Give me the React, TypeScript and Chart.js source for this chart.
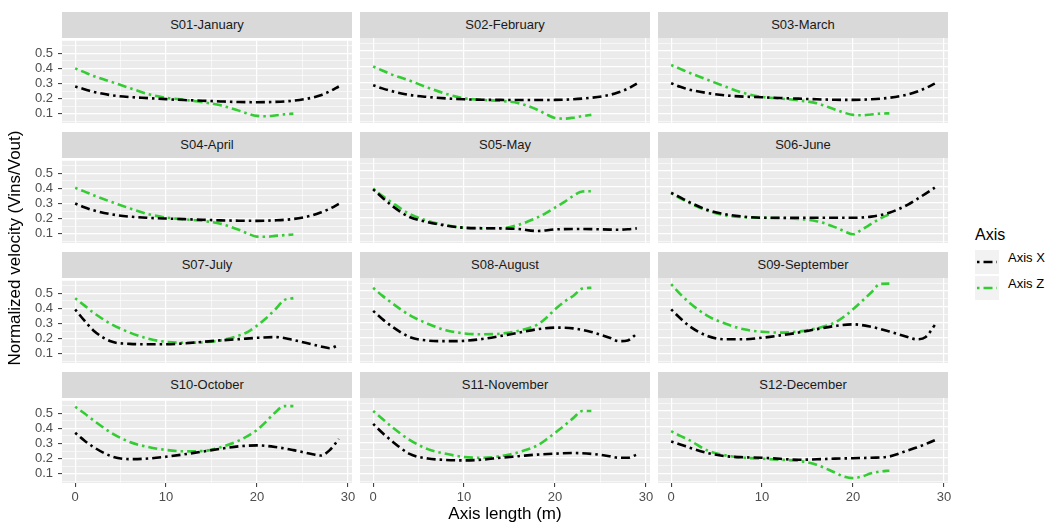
import React, { useEffect, useRef } from "react";
import { Chart, registerables } from "chart.js";

Chart.register(...registerables);

// ---------------- data ----------------
const panelTitles = [
  "S01-January", "S02-February", "S03-March",
  "S04-April", "S05-May", "S06-June",
  "S07-July", "S08-August", "S09-September",
  "S10-October", "S11-November", "S12-December",
];

const legendLabels = ["Axis X", "Axis Z"];
const legendTitle = "Axis";
const xAxisTitle = "Axis length (m)";
const yAxisTitle = "Normalized velocity (Vins/Vout)";

// axis length positions (m) at which each series is read
const axisXPositions = [0, 1, 2, 4, 6, 8, 10, 12, 14, 16, 18, 20, 22, 24, 26, 27, 28, 29];
const axisZPositions = [0, 1, 2, 4, 6, 8, 10, 12, 14, 16, 18, 19, 20, 21, 22, 23, 24];

const s01AxisX = [0.28, 0.262, 0.245, 0.222, 0.21, 0.203, 0.196, 0.19, 0.186, 0.181, 0.177, 0.176, 0.178, 0.186, 0.205, 0.222, 0.248, 0.28];
const s01AxisZ = [0.40, 0.375, 0.35, 0.31, 0.27, 0.23, 0.205, 0.192, 0.176, 0.155, 0.12, 0.1, 0.085, 0.083, 0.088, 0.095, 0.1];

const s02AxisX = [0.28, 0.26, 0.243, 0.218, 0.205, 0.196, 0.19, 0.187, 0.186, 0.185, 0.185, 0.186, 0.19, 0.2, 0.218, 0.235, 0.258, 0.29];
const s02AxisZ = [0.40, 0.375, 0.35, 0.31, 0.265, 0.225, 0.197, 0.186, 0.18, 0.165, 0.125, 0.095, 0.07, 0.066, 0.072, 0.082, 0.09];

const s03AxisX = [0.293, 0.27, 0.252, 0.23, 0.215, 0.207, 0.203, 0.198, 0.194, 0.19, 0.187, 0.186, 0.19, 0.2, 0.22, 0.238, 0.262, 0.29];
const s03AxisZ = [0.41, 0.385, 0.36, 0.315, 0.27, 0.23, 0.205, 0.195, 0.183, 0.165, 0.125, 0.105, 0.09, 0.088, 0.093, 0.098, 0.1];

const s04AxisX = [0.30, 0.275, 0.255, 0.228, 0.213, 0.205, 0.2, 0.196, 0.192, 0.188, 0.186, 0.185, 0.188, 0.197, 0.22, 0.24, 0.265, 0.297];
const s04AxisZ = [0.404, 0.38, 0.355, 0.31, 0.268, 0.23, 0.207, 0.195, 0.185, 0.165, 0.126, 0.1, 0.08, 0.079, 0.085, 0.09, 0.094];

const s05AxisX = [0.382, 0.33, 0.28, 0.205, 0.172, 0.15, 0.136, 0.133, 0.132, 0.128, 0.115, 0.125, 0.128, 0.127, 0.124, 0.123, 0.126, 0.132];
const s05AxisZ = [0.387, 0.34, 0.3, 0.225, 0.18, 0.152, 0.136, 0.132, 0.132, 0.155, 0.2, 0.23, 0.265, 0.3, 0.34, 0.368, 0.37];

const s06AxisX = [0.36, 0.33, 0.3, 0.25, 0.222, 0.207, 0.2, 0.2, 0.2, 0.2, 0.2, 0.2, 0.207, 0.232, 0.283, 0.318, 0.355, 0.393];
const s06AxisZ = [0.357, 0.325, 0.295, 0.245, 0.215, 0.203, 0.2, 0.197, 0.192, 0.178, 0.14, 0.115, 0.094, 0.125, 0.16, 0.195, 0.222];

const s07AxisX = [0.393, 0.32, 0.254, 0.18, 0.165, 0.162, 0.162, 0.168, 0.178, 0.188, 0.196, 0.205, 0.21, 0.19, 0.162, 0.148, 0.136, 0.158];
const s07AxisZ = [0.468, 0.42, 0.372, 0.295, 0.24, 0.2, 0.178, 0.172, 0.175, 0.188, 0.22, 0.245, 0.286, 0.335, 0.393, 0.455, 0.468];

const s08AxisX = [0.372, 0.32, 0.275, 0.205, 0.182, 0.178, 0.18, 0.192, 0.211, 0.232, 0.254, 0.265, 0.26, 0.237, 0.2, 0.178, 0.183, 0.226];
const s08AxisZ = [0.52, 0.47, 0.425, 0.345, 0.29, 0.248, 0.228, 0.222, 0.226, 0.245, 0.282, 0.325, 0.382, 0.43, 0.468, 0.515, 0.52];

const s09AxisX = [0.382, 0.325, 0.275, 0.211, 0.19, 0.19, 0.2, 0.215, 0.233, 0.255, 0.275, 0.286, 0.27, 0.24, 0.205, 0.19, 0.205, 0.282];
const s09AxisZ = [0.543, 0.48, 0.425, 0.34, 0.29, 0.254, 0.238, 0.233, 0.24, 0.26, 0.297, 0.335, 0.382, 0.435, 0.49, 0.545, 0.547];

const s10AxisX = [0.371, 0.32, 0.277, 0.215, 0.196, 0.2, 0.212, 0.228, 0.246, 0.265, 0.281, 0.2875, 0.277, 0.256, 0.23, 0.22, 0.256, 0.33];
const s10AxisZ = [0.544, 0.5, 0.454, 0.37, 0.31, 0.277, 0.257, 0.248, 0.25, 0.275, 0.319, 0.35, 0.39, 0.445, 0.506, 0.548, 0.548];

const s11AxisX = [0.417, 0.36, 0.31, 0.225, 0.195, 0.186, 0.183, 0.188, 0.2, 0.21, 0.22, 0.226, 0.23, 0.225, 0.21, 0.2, 0.2, 0.22];
const s11AxisZ = [0.5, 0.45, 0.4, 0.315, 0.255, 0.225, 0.205, 0.2, 0.21, 0.235, 0.277, 0.315, 0.36, 0.405, 0.454, 0.5, 0.5];

const s12AxisX = [0.304, 0.285, 0.265, 0.23, 0.21, 0.203, 0.2, 0.193, 0.187, 0.19, 0.194, 0.197, 0.2, 0.208, 0.246, 0.265, 0.2875, 0.3125];
const s12AxisZ = [0.37, 0.34, 0.3125, 0.246, 0.215, 0.2, 0.194, 0.187, 0.18, 0.155, 0.105, 0.079, 0.069, 0.08, 0.1, 0.112, 0.117];

const seriesAxisX = [s01AxisX, s02AxisX, s03AxisX, s04AxisX, s05AxisX, s06AxisX, s07AxisX, s08AxisX, s09AxisX, s10AxisX, s11AxisX, s12AxisX];
const seriesAxisZ = [s01AxisZ, s02AxisZ, s03AxisZ, s04AxisZ, s05AxisZ, s06AxisZ, s07AxisZ, s08AxisZ, s09AxisZ, s10AxisZ, s11AxisZ, s12AxisZ];

const xMajorTicks = [0, 10, 20, 30];
const xMinorTicks = [5, 15, 25];
const yMajorTicks = [0.1, 0.2, 0.3, 0.4, 0.5];
const yMinorTicks = [0.05, 0.15, 0.25, 0.35, 0.45, 0.55];

// ---------------- layout / style ----------------
const FONT = '"Liberation Sans", Arial, sans-serif';
const PANEL_W = 290;
const PANEL_H = 85;
const STRIP_H = 26;
const COL_LEFT = [62, 360, 658];
const ROW_TOP = [12, 132, 252, 372];
const PAD_L = 60;
const PAD_T = 10;
const PAD_R = 10;
const PAD_B = 30;
const COLOR_X = "#000000";
const COLOR_Z = "#33cc33";
const DASH = [2.5, 4, 9, 4];

const isIn = (list: number[], v: number) => list.some((t) => Math.abs(t - v) < 1e-6);

const panelBg = {
  id: "panelBg",
  beforeDraw(chart: any) {
    const { ctx, chartArea } = chart;
    ctx.save();
    ctx.fillStyle = "#EBEBEB";
    ctx.fillRect(chartArea.left, chartArea.top, chartArea.right - chartArea.left, chartArea.bottom - chartArea.top);
    ctx.restore();
  },
};

function Panel({ index }: { index: number }) {
  const ref = useRef<HTMLCanvasElement>(null);
  const row = Math.floor(index / 3);
  const col = index % 3;
  const showY = col === 0;
  const showX = row === 3;

  useEffect(() => {
    if (!ref.current) return;
    const xTicks = [...xMajorTicks, ...xMinorTicks].sort((a, b) => a - b);
    const yTicks = [...yMajorTicks, ...yMinorTicks].sort((a, b) => a - b);
    const chart = new Chart(ref.current, {
      type: "line",
      data: {
        datasets: [
          {
            label: legendLabels[0],
            data: axisXPositions.map((x, i) => ({ x, y: seriesAxisX[index][i] })),
            borderColor: COLOR_X,
            borderWidth: 2.6,
            borderDash: DASH,
            pointRadius: 0,
            cubicInterpolationMode: "monotone",
            fill: false,
          },
          {
            label: legendLabels[1],
            data: axisZPositions.map((x, i) => ({ x, y: seriesAxisZ[index][i] })),
            borderColor: COLOR_Z,
            borderWidth: 2.6,
            borderDash: DASH,
            pointRadius: 0,
            cubicInterpolationMode: "monotone",
            fill: false,
          },
        ],
      },
      options: {
        responsive: false,
        animation: false,
        devicePixelRatio: 1,
        events: [],
        layout: { padding: { left: 0, top: PAD_T, right: PAD_R, bottom: 0 } },
        plugins: { legend: { display: false }, tooltip: { enabled: false }, title: { display: false } },
        scales: {
          x: {
            type: "linear",
            min: -1.45,
            max: 30.45,
            bounds: "data",
            afterBuildTicks: (s: any) => {
              s.ticks = xTicks.map((v) => ({ value: v }));
            },
            afterFit: (s: any) => {
              s.height = PAD_B;
            },
            border: { display: false },
            grid: {
              color: "#FFFFFF",
              lineWidth: (c: any) => (c.tick && isIn(xMajorTicks, c.tick.value) ? 1.2 : 0.6),
              drawTicks: showX,
              tickLength: 4,
              tickWidth: 1,
              tickColor: (c: any) => (c.tick && isIn(xMajorTicks, c.tick.value) ? "#333333" : "rgba(0,0,0,0)"),
            },
            ticks: {
              display: showX,
              autoSkip: false,
              maxRotation: 0,
              minRotation: 0,
              padding: 3,
              color: "#4D4D4D",
              font: { family: FONT, size: 13 },
              callback: (v: any) => (isIn(xMajorTicks, Number(v)) ? String(Math.round(Number(v))) : ""),
            },
          },
          y: {
            type: "linear",
            min: 0.038,
            max: 0.583,
            bounds: "data",
            afterBuildTicks: (s: any) => {
              s.ticks = yTicks.map((v) => ({ value: v }));
            },
            afterFit: (s: any) => {
              s.width = PAD_L;
            },
            border: { display: false },
            grid: {
              color: "#FFFFFF",
              lineWidth: (c: any) => (c.tick && isIn(yMajorTicks, c.tick.value) ? 1.2 : 0.6),
              drawTicks: showY,
              tickLength: 4,
              tickWidth: 1,
              tickColor: (c: any) => (c.tick && isIn(yMajorTicks, c.tick.value) ? "#333333" : "rgba(0,0,0,0)"),
            },
            ticks: {
              display: showY,
              autoSkip: false,
              padding: 5,
              color: "#4D4D4D",
              font: { family: FONT, size: 13 },
              callback: (v: any) => (isIn(yMajorTicks, Number(v)) ? Number(v).toFixed(1) : ""),
            },
          },
        },
      },
      plugins: [panelBg],
    } as any);
    return () => chart.destroy();
  }, [index]);

  const left = COL_LEFT[col];
  const top = ROW_TOP[row];
  return (
    <>
      <div
        style={{
          position: "absolute",
          left,
          top,
          width: PANEL_W,
          height: STRIP_H,
          background: "#D9D9D9",
          color: "#1A1A1A",
          font: `13px ${FONT}`,
          lineHeight: `${STRIP_H}px`,
          textAlign: "center",
        }}
      >
        {panelTitles[index]}
      </div>
      <canvas
        ref={ref}
        width={PAD_L + PANEL_W + PAD_R}
        height={PAD_T + PANEL_H + PAD_B}
        style={{
          position: "absolute",
          left: left - PAD_L,
          top: top + STRIP_H - PAD_T,
          width: PAD_L + PANEL_W + PAD_R,
          height: PAD_T + PANEL_H + PAD_B,
        }}
      />
    </>
  );
}

function LegendKey({ color, label, top }: { color: string; label: string; top: number }) {
  return (
    <>
      <div style={{ position: "absolute", left: 975, top, width: 24, height: 24, background: "#F2F2F2" }}>
        <svg width={24} height={24} style={{ display: "block" }}>
          <line x1={2} y1={12} x2={22} y2={12} stroke={color} strokeWidth={2.6} strokeDasharray="2.5 4 9 4" />
        </svg>
      </div>
      <div
        style={{
          position: "absolute",
          left: 1008,
          top,
          height: 24,
          lineHeight: "24px",
          font: `13px ${FONT}`,
          color: "#000",
          whiteSpace: "nowrap",
        }}
      >
        {label}
      </div>
    </>
  );
}

export default function App() {
  return (
    <div
      style={{
        position: "fixed",
        left: 0,
        top: 0,
        width: 1051,
        height: 526,
        background: "#FFFFFF",
        overflow: "hidden",
      }}
    >
      {panelTitles.map((_, i) => (
        <Panel key={i} index={i} />
      ))}
      <div
        style={{
          position: "absolute",
          left: 17 - 200,
          top: 248 - 12,
          width: 400,
          height: 24,
          lineHeight: "24px",
          textAlign: "center",
          transform: "rotate(-90deg)",
          font: `17px ${FONT}`,
          color: "#000",
          whiteSpace: "nowrap",
        }}
      >
        {yAxisTitle}
      </div>
      <div
        style={{
          position: "absolute",
          left: 505 - 200,
          top: 516 - 12,
          width: 400,
          height: 24,
          lineHeight: "24px",
          textAlign: "center",
          font: `17px ${FONT}`,
          color: "#000",
          whiteSpace: "nowrap",
        }}
      >
        {xAxisTitle}
      </div>
      <div
        style={{
          position: "absolute",
          left: 975,
          top: 226,
          height: 22,
          lineHeight: "22px",
          font: `16px ${FONT}`,
          color: "#000",
        }}
      >
        {legendTitle}
      </div>
      <LegendKey color={COLOR_X} label={legendLabels[0]} top={250} />
      <LegendKey color={COLOR_Z} label={legendLabels[1]} top={276} />
    </div>
  );
}
